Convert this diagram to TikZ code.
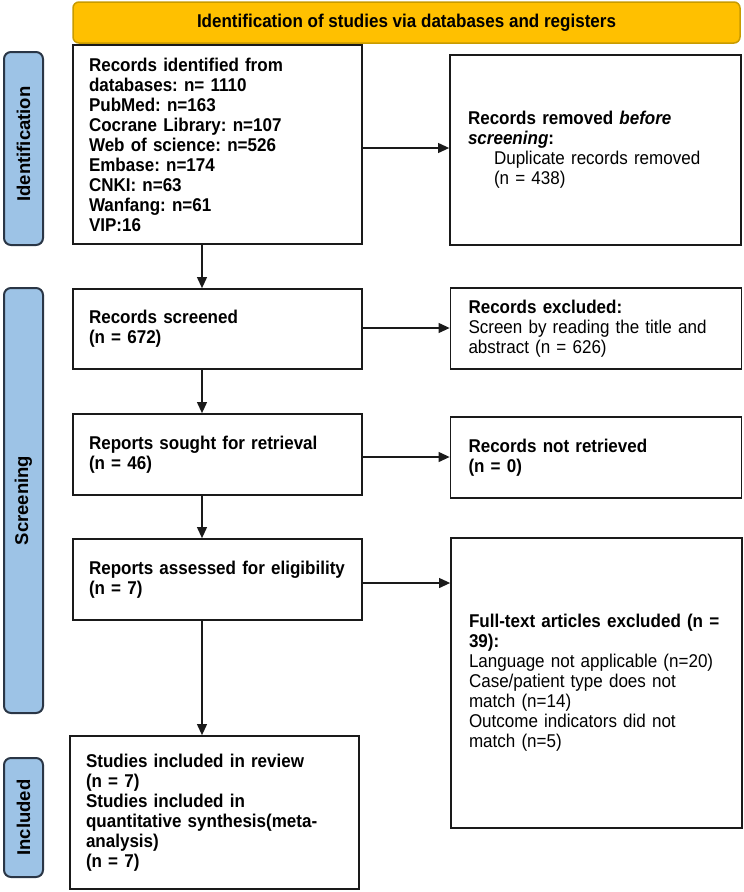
\documentclass[tikz,border=0pt]{standalone}
\usepackage{fontspec}
\setmainfont{Liberation Sans}[FakeStretch=0.92]
\newfontfamily\lblfont{Liberation Sans}
\usetikzlibrary{arrows.meta}
\definecolor{bannerfill}{HTML}{FFC000}
\definecolor{bannerdraw}{HTML}{C89B00}
\definecolor{lblfill}{HTML}{9DC3E6}
\definecolor{lbldraw}{HTML}{2A3646}
\definecolor{boxdraw}{HTML}{1A1A1A}
\frenchspacing
\begin{document}
\begin{tikzpicture}[x=1pt,y=-1pt,
  box/.style={draw=boxdraw,line width=1.8pt,fill=white,align=left,inner ysep=0pt,font=\fontsize{18.5}{20}\selectfont},
  lbox/.style={box,inner xsep=16pt,text width=257pt,minimum width=289pt},
  rbox/.style={box,inner xsep=18pt,text width=255pt,minimum width=291pt},
  side/.style={draw=lbldraw,fill=lblfill,line width=2pt,rounded corners=7pt,rotate=90,minimum height=39pt,inner sep=0pt,font=\lblfont\fontsize{18.5}{20}\selectfont\bfseries},
  banner/.style={draw=bannerdraw,fill=bannerfill,line width=1.5pt,rounded corners=6pt,inner sep=0pt,font=\fontsize{18.5}{20}\selectfont\bfseries},
  arr/.style={line width=1.1pt,draw=boxdraw,-{Triangle[length=11pt,width=10pt]}}]
\useasboundingbox (0,0) rectangle (744,892);

\node[banner,minimum width=667pt,minimum height=41pt] (ban) at (406.5,22.5) {Identification of studies via databases and registers};

\node[side,minimum width=193pt] (lid) at (23.5,148.5) {\hspace*{9pt}Identification};
\node[side,minimum width=425pt] (lsc) at (23.5,500.5) {Screening};
\node[side,minimum width=119pt] (lin) at (23.5,817.5) {Included};

\node[lbox,minimum height=199pt] (rec) at (217.5,144.5) {\bfseries Records identified from\\databases: n= 1110\\PubMed: n=163\\Cocrane Library: n=107\\Web of science: n=526\\Embase: n=174\\CNKI: n=63\\Wanfang: n=61\\VIP:16};
\node[rbox,minimum height=190pt] (dup) at (595.5,150) {\textbf{Records removed \textit{before}}\\\textbf{\textit{screening}:}\\\hspace*{26pt}Duplicate records removed\\\hspace*{26pt}(n = 438)};

\node[lbox,minimum height=80pt] (scr) at (217.5,329) {\bfseries Records screened\\(n = 672)};
\node[rbox,minimum height=81pt] (exc) at (596,328.5) {\textbf{Records excluded:}\\Screen by reading the title and\\abstract (n = 626)};

\node[lbox,minimum height=81pt] (sou) at (217.5,454.5) {\bfseries Reports sought for retrieval\\(n = 46)};
\node[rbox,minimum height=81pt] (ret) at (596,457.5) {\bfseries Records not retrieved\\(n = 0)};

\node[lbox,minimum height=81pt] (ass) at (217.5,579.5) {\bfseries Reports assessed for eligibility\\(n = 7)};
\node[rbox,minimum height=290pt] (ful) at (596.5,683) {\textbf{Full-text articles excluded (n =}\\\textbf{39):}\\Language not applicable (n=20)\\Case/patient type does not\\match (n=14)\\Outcome indicators did not\\match (n=5)};

\node[lbox,minimum height=153pt] (inc) at (214.5,812.5) {\bfseries Studies included in review\\(n = 7)\\Studies included in\\quantitative synthesis(meta-\\analysis)\\(n = 7)};

\coordinate (colx) at (202,0);
\coordinate (r1) at (0,148);
\coordinate (r2) at (0,328);
\coordinate (r3) at (0,457);
\coordinate (r4) at (0,583);

\draw[arr] (rec.south -| colx) -- (scr.north -| colx);
\draw[arr] (scr.south -| colx) -- (sou.north -| colx);
\draw[arr] (sou.south -| colx) -- (ass.north -| colx);
\draw[arr] (ass.south -| colx) -- (inc.north -| colx);

\draw[arr] (rec.east |- r1) -- (dup.west |- r1);
\draw[arr] (scr.east |- r2) -- (exc.west |- r2);
\draw[arr] (sou.east |- r3) -- (ret.west |- r3);
\draw[arr] (ass.east |- r4) -- (ful.west |- r4);
\end{tikzpicture}
\end{document}
